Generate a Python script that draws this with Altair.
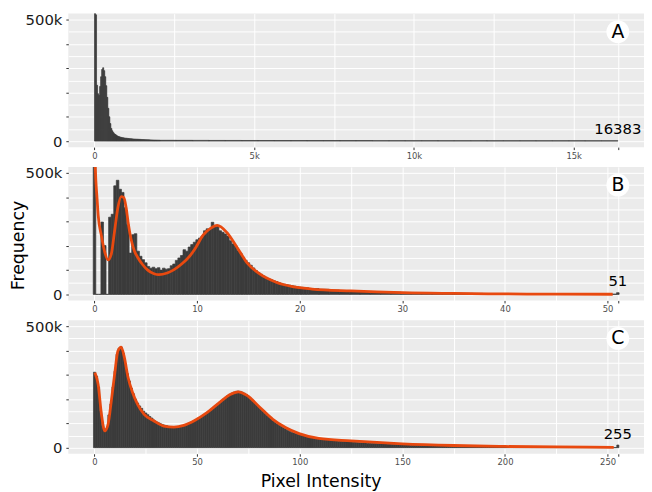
import altair as alt
import pandas as pd

FONT = "DejaVu Sans"
BAR = "#3b3b3b"
LINE = "#E8490F"
PANEL = "#EBEBEB"

# ---------------- data (counts in thousands) ----------------
# Panel A: raw 14-bit intensities, bins of 32 from 0 to 2048, then coarse tail bins of 512
A_BIN = 32
A_counts = [900, 520, 230, 195, 188, 225, 265, 295, 302, 290, 265, 228, 180, 135, 100, 72,
            52, 42, 35, 30, 27, 24, 21, 19, 17.5, 16, 15, 14, 13.2, 12.5, 12, 11.5,
            11, 10.5, 10, 9.6, 9.2, 8.8, 8.5, 8.2, 8, 7.8, 7.5, 7.2, 7, 6.7, 6.5, 6.2,
            6, 5.8, 5.6, 5.4, 5.2, 5, 4.8, 4.6, 4.5, 4.3, 4.2, 4, 3.9, 3.8, 3.7, 3.6]
A_TAIL_BIN = 512
A_tail = [3.2, 3.0, 2.8, 2.6, 2.5, 2.4, 2.3, 2.2, 2.1, 2.0, 2.0, 1.9, 1.9, 1.8,
          1.8, 1.7, 1.7, 1.6, 1.6, 1.6, 1.5, 1.5, 1.5, 1.4, 1.4, 1.4, 1.3, 1.3]

# Panel B: transformed scale 0..51, bins of 0.25 up to ~21, then unit bins
B_BIN = 0.25
B_counts = [900, 0, 0, 298, 201, 0, 318, 330, 447, 470, 433, 420, 357, 287, 170, 246,
            250, 178, 157, 143, 130, 115, 108, 112, 106, 110, 100, 108, 104, 106, 118, 125,
            140, 150, 160, 184, 178, 195, 205, 215, 225, 232, 240, 262, 270, 268, 297, 280,
            282, 262, 256, 249, 240, 221, 208, 201, 180, 170, 153, 140, 130, 120, 109, 98,
            90, 83, 76, 70, 64, 60, 56, 53, 48, 45, 42, 40, 38, 36, 34, 32,
            30, 29, 28, 27]
B_tail = [24, 21, 18, 16, 14, 12, 11, 10, 9, 8, 7, 6.5, 6, 5.5, 5, 4.5, 4, 3.6, 3.2, 2.9,
          2.6, 2.4, 2.2, 2.0, 1.8, 1.6, 1.5, 1.4, 1.3, 1.2]
B_last = 7
B_curve_x = [0, 0.13, 0.25, 0.36, 0.67, 1.0, 1.32, 1.64, 1.96, 2.28, 2.6, 2.86, 3.08, 3.3,
             3.56, 3.88, 4.2, 4.68, 5.16, 5.8, 6.28, 7.08, 7.72, 8.52, 9.32, 9.8, 10.6,
             11.3, 11.96, 12.9, 13.9, 14.85, 16.1, 17.7, 19.3, 21.2, 25, 30, 35, 40, 45, 50.5]
B_curve_y = [600, 470, 395, 325, 242, 174, 142, 167, 262, 358, 403, 399, 358, 290,
             228, 180, 153, 123, 101, 85, 81, 88, 101, 126, 160, 188, 245,
             272, 284, 255, 193, 131, 84, 50, 32, 22, 14, 7, 4, 2, 1, 0.5]

# Panel C: 8-bit scale 0..255, unit bins
C_counts = [311, 295, 250, 150, 90, 68, 80, 135, 180, 250,
            315, 385, 410, 415, 390, 345, 305, 275, 245, 222,
            200, 184, 172, 162, 150, 143, 136, 128, 122, 114,
            108, 104, 100, 96, 93, 91, 88, 87, 86, 86,
            86, 87, 89, 91, 94, 97, 101, 105, 109, 113,
            118, 123, 128, 134, 140, 146, 152, 159, 166, 173,
            180, 187, 194, 201, 208, 215, 220, 225, 229, 232,
            233, 232, 229, 225, 219, 212, 204, 195, 186, 177,
            168, 159, 150, 141, 133, 125, 118, 111, 104, 98,
            92, 87, 82, 77, 72, 68, 64, 61, 58, 55,
            52, 50, 48, 46, 44, 42, 41, 40, 39, 38,
            36, 35, 34, 33, 32, 31, 30, 29, 28, 27,
            27, 26, 25, 24.5, 24, 23, 22.5, 22, 21, 20.5,
            20, 19.5, 19, 18.5, 18, 17.5, 17, 16.8, 16.5, 16.2,
            16, 15.5, 15, 14.5, 14, 13.5, 13, 12.7, 12.4, 12,
            11.7, 11.4, 11.1, 10.8, 10.5, 10.2, 10, 9.8, 9.6, 9.4,
            9.2, 9, 8.8, 8.6, 8.4, 8.2, 8, 7.8, 7.6, 7.4,
            7.2, 7, 6.9, 6.8, 6.7, 6.6, 6.5, 6.4, 6.3, 6.2,
            6.1, 6, 5.9, 5.8, 5.7, 5.6, 5.5, 5.4, 5.3, 5.2,
            5.1, 5, 4.9, 4.8, 4.7, 4.6, 4.5, 4.4, 4.3, 4.2,
            4.1, 4, 3.9, 3.8, 3.7, 3.6, 3.5, 3.4, 3.3, 3.2,
            3.1, 3, 2.9, 2.8, 2.7, 2.6, 2.5, 2.4, 2.3, 2.2,
            2.2, 2.1, 2.1, 2, 2, 1.9, 1.9, 1.8, 1.8, 1.7,
            1.7, 1.6, 1.6, 1.5, 1.5, 1.4, 1.4, 1.3, 1.3, 1.2,
            1.2, 1.1, 1.1, 1, 1, 0.9, 0.9, 0.8, 0.8, 0.7,
            0.7, 0.6, 0.6, 0.5, 0.5, 11]
C_curve_x = [0.18, 1.78, 3.4, 5.0, 6.6, 8.2, 9.8, 11.4, 13.0, 14.6, 16.2, 18.6, 21, 24.2,
             29, 33.8, 38.7, 43.5, 48.8, 54.8, 61.3, 66.1, 70, 74, 80.5, 86.9, 93.3, 99.7,
             109.3, 125, 150, 175, 200, 225, 253]
C_curve_y = [309, 260, 137, 69, 96, 193, 302, 398, 414, 370, 295, 226, 178, 137,
             110, 89, 85, 92, 112, 144, 189, 219, 230, 217, 167, 117, 82, 58,
             38, 28, 16, 9, 5, 3, 1.5]

MAX_VALUES = [16383, 51, 255]
LETTERS = ["A", "B", "C"]
Y_GRID = [0, 50000, 100000, 150000, 200000, 250000, 300000, 350000, 400000, 450000, 500000]
LETTER_Y = 450000


def bar_rows(start, width, counts):
    return [{"lo": start + i * width, "hi": start + (i + 1) * width, "count": c * 1000}
            for i, c in enumerate(counts)]


A_bars = pd.DataFrame(bar_rows(0, A_BIN, A_counts) + bar_rows(2048, A_TAIL_BIN, A_tail))
B_bars = pd.DataFrame(bar_rows(-B_BIN / 2, B_BIN, B_counts)
                      + bar_rows(20.875, 1, B_tail)
                      + bar_rows(51 - B_BIN / 2, B_BIN, [B_last]))
C_bars = pd.DataFrame(bar_rows(-0.5, 1, C_counts))
B_curve = pd.DataFrame({"x": B_curve_x, "y": [v * 1000 for v in B_curve_y]})
C_curve = pd.DataFrame({"x": C_curve_x, "y": [v * 1000 for v in C_curve_y]})

W, H = 582, 135
YDOM = [-25000, 525000]


def panel(bars, curve, xmax, maxcount, letter, xvals, tick_test, label_expr, xtitle=None):
    pad = xmax * 0.05
    xscale = alt.Scale(domain=[-pad, xmax + pad], nice=False, zero=False)
    yscale = alt.Scale(domain=YDOM, nice=False, zero=False)
    xkw = dict(values=xvals, tickCount=100, grid=True, gridColor="white", gridWidth=1,
               domain=False, tickSize=2.5, tickColor="#333333",
               tickOpacity={"condition": {"test": tick_test, "value": 1}, "value": 0},
               labelExpr=label_expr, labelFontSize=8.5, labelColor="#4D4D4D",
               labelPadding=1.5, labelFont=FONT, labelFlush=False, labelOverlap=False)
    if xtitle:
        xkw.update(title=xtitle, titleFontSize=17.5, titleFont=FONT, titleFontWeight="normal",
                   titleColor="black", titleX=255, titleY=33, titleAlign="center",
                   titleBaseline="alphabetic")
    else:
        xkw.update(title=None)
    ykw = dict(values=Y_GRID, tickCount=100, grid=True, gridColor="white", gridWidth=1,
               domain=False, tickSize=2.5, tickColor="#333333",
               tickOpacity={"condition": {"test": "datum.value % 100000 == 0", "value": 1},
                            "value": 0},
               labelExpr="datum.value == 500000 ? '500k' : (datum.value == 0 ? '0' : '')",
               labelFontSize=15, labelColor="#1a1a1a", labelPadding=4, labelFont=FONT,
               labelOverlap=False, labelFlush=False, labelBound=False)
    if letter == "B":
        ykw.update(title="Frequency", titleFontSize=17.5, titleFont=FONT,
                   titleFontWeight="normal", titleColor="black",
                   titleX=-50, titleY=79, titleAlign="center", titleBaseline="middle")
    else:
        ykw.update(title=None)
    base_bars = alt.Chart(bars).mark_bar(color=BAR, stroke=BAR, strokeWidth=0.7,
                                         clip=True).encode(
        x=alt.X("lo:Q", scale=xscale, axis=alt.Axis(**xkw)),
        x2="hi:Q",
        y=alt.Y("count:Q", scale=yscale, axis=alt.Axis(**ykw)),
        y2=alt.datum(0),
    )
    layers = [base_bars]
    if curve is not None:
        layers.append(alt.Chart(curve).mark_line(color=LINE, strokeWidth=2.8,
                                                  interpolate="monotone", clip=True).encode(
            x="x:Q", y="y:Q"))
    info = pd.DataFrame({"x": [xmax], "ly": [LETTER_Y], "letter": [letter],
                         "c": [maxcount * 1000], "lab": [str(xmax)]})
    layers.append(alt.Chart(info).mark_circle(size=530, color="white", opacity=1).encode(
        x="x:Q", y="ly:Q"))
    layers.append(alt.Chart(info).mark_text(fontSize=19, font=FONT, color="black",
                                            baseline="middle", align="center").encode(
        x="x:Q", y="ly:Q", text="letter:N"))
    layers.append(alt.Chart(info).mark_text(fontSize=15, font=FONT, color="black",
                                            baseline="alphabetic", align="center",
                                            dy=-6.5).encode(
        x="x:Q", y="c:Q", text="lab:N"))
    return alt.layer(*layers).properties(width=W, height=H)


pA = panel(A_bars, None, MAX_VALUES[0], A_tail[-1], LETTERS[0],
           [0, 2500, 5000, 7500, 10000, 12500, 15000, 16383],
           "datum.value % 5000 == 0 || datum.value == 16383",
           "datum.value == 0 ? '0' : (datum.value % 5000 == 0 ? (datum.value / 1000) + 'k' : '')")
pB = panel(B_bars, B_curve, MAX_VALUES[1], B_last, LETTERS[1],
           [0, 5, 10, 15, 20, 25, 30, 35, 40, 45, 50, 51],
           "datum.value % 10 == 0 || datum.value == 51",
           "datum.value % 10 == 0 ? '' + datum.value : ''")
pC = panel(C_bars, C_curve, MAX_VALUES[2], C_counts[-1], LETTERS[2],
           [0, 25, 50, 75, 100, 125, 150, 175, 200, 225, 250, 255],
           "datum.value % 50 == 0 || datum.value == 255",
           "datum.value % 50 == 0 ? '' + datum.value : ''",
           xtitle="Pixel Intensity")

chart = alt.vconcat(pA, pB, pC, spacing=6).properties(
    padding={"left": 2, "top": 2, "right": 0, "bottom": 0}
).configure(
    font=FONT,
    view=alt.ViewConfig(fill=PANEL, strokeWidth=0),
)

chart.save("out.html", embed_options={"renderer": "svg", "actions": False})
